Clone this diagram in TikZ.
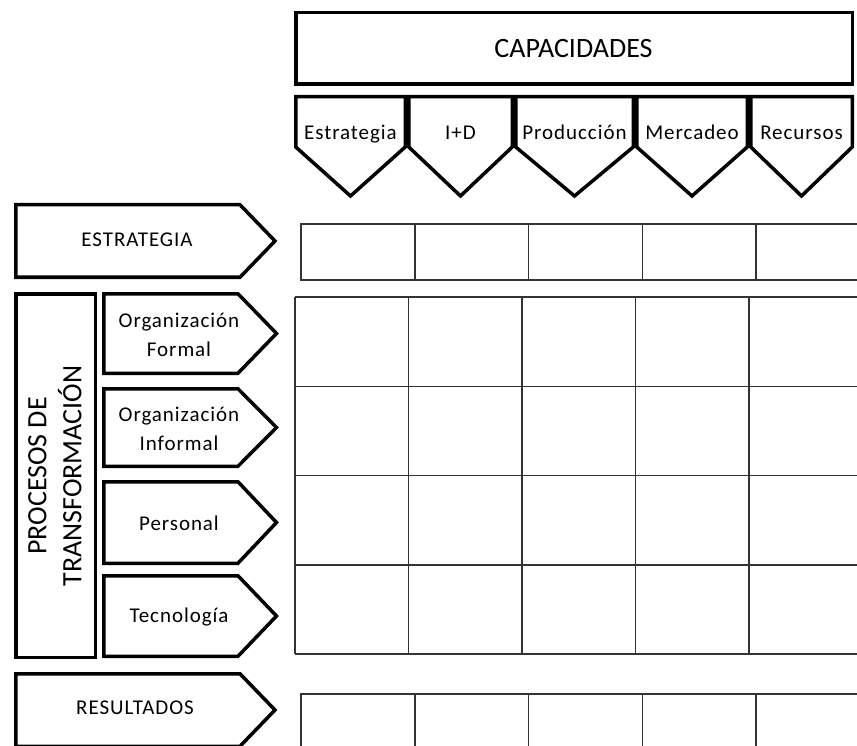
\documentclass[tikz,border=0pt]{standalone}
\usepackage{fontspec}
\setmainfont{Carlito}
\newfontfamily\lblfont[LetterSpace=4.5]{Carlito}
\usetikzlibrary{positioning}

\begin{document}
\begin{tikzpicture}[x=1pt, y=-1pt,
    thickline/.style={draw=black, line width=3.5pt, line join=miter},
    cellline/.style={draw=black!80, line width=1.5pt},
    lbl/.style={font=\lblfont\fontsize{21}{29}\selectfont, align=center, inner sep=0pt},
    biglbl/.style={font=\fontsize{28}{35}\selectfont, align=center, inner sep=0pt}]
\useasboundingbox (0,0) rectangle (857,746);
\clip (0,0) rectangle (857,746);

% capacidades
\draw[thickline] (295.75,12.75) rectangle (852.25,84.25);
\node[biglbl] (capacidades) at (573.5,48.5) {CAPACIDADES};

\foreach \l/\r/\txt [count=\i] in {294/407/Estrategia, 407/514/I+D, 514/635/Producción, 635/749/Mercadeo, 749/854/Recursos}{
  \draw[thickline] (\l+1.75,96.75) -- (\r-1.75,96.75) -- (\r-1.75,147) -- ({(\l+\r)/2},196) -- (\l+1.75,147) -- cycle;
  \node[lbl, anchor=base] (cap\i) at ({(\l+\r)/2},140) {\txt};
}

% estrategia y resultados
\draw[thickline] (15.75,204.75) -- (240,204.75) -- (275,241) -- (240,277.25) -- (15.75,277.25) -- cycle;
\node[lbl] (estrategia) at (137,240) {ESTRATEGIA};
\draw[thickline] (15.75,673.75) -- (240,673.75) -- (275,710) -- (240,746.25) -- (15.75,746.25) -- cycle;
\node[lbl] (resultados) at (135,708) {RESULTADOS};

% procesos de transformacion
\draw[thickline] (15.75,293.75) rectangle (95.25,657.25);
\node[biglbl, rotate=90] (procesos) at (55,476) {PROCESOS DE\\TRANSFORMACIÓN};

\foreach \t/\b/\txt [count=\i] in {292/375/Organización\\Formal, 387/468/Organización\\Informal, 480/565/Personal, 574/658/Tecnología}{
  \draw[thickline] (103.75,\t+1.75) -- (238,\t+1.75) -- (276.5,{(\t+\b)/2}) -- (238,\b-1.75) -- (103.75,\b-1.75) -- cycle;
  \node[lbl] (proc\i) at (179,{(\t+\b)/2+1}) {\txt};
}

% celdas
\foreach \x in {301,414.75,528.5,642.25,756}{
  \draw[cellline] (\x,224) -- (\x,280);
  \draw[cellline] (\x,694) -- (\x,760);
}
\draw[cellline] (870,224) -- (301,224) -- (301,280) -- (870,280);
\draw[cellline] (870,694) -- (301,694) -- (301,760);
\foreach \y in {297,386.25,475.5,564.75,654}
  \draw[cellline] (295,\y) -- (870,\y);
\foreach \x in {295,408.5,522,635.5,749}
  \draw[cellline] (\x,297) -- (\x,654);
\end{tikzpicture}
\end{document}
